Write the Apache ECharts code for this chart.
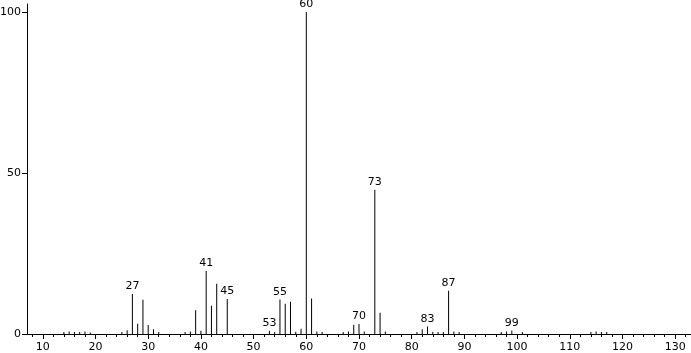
<!DOCTYPE html>
<html><head><meta charset="utf-8">
<script src="https://cdn.jsdelivr.net/npm/echarts@6/dist/echarts.min.js"></script>
<style>html,body{margin:0;padding:0;background:#fff;}#c{width:691px;height:353px;}</style>
</head><body><div id="c"></div>
<script>
const masses = [14,15,16,17,18,19,25,26,27,28,29,30,31,32,37,38,39,40,41,42,43,45,53,54,55,56,57,58,59,60,61,62,63,67,68,69,70,71,73,74,75,81,82,83,84,85,86,87,88,89,97,98,99,101,114,115,116,117];
const intensities = [0.6,0.8,0.6,0.6,0.8,0.5,0.6,1.2,12.4,3.2,10.6,2.8,1.5,0.6,0.6,0.8,7.4,1.0,19.6,8.8,15.6,10.9,1.0,0.6,10.7,9.4,10.0,0.7,1.6,100,11.0,0.8,0.6,0.6,0.8,2.9,3.1,0.8,44.8,6.6,0.8,0.6,1.5,2.3,0.6,0.6,0.6,13.4,0.8,0.6,0.6,0.8,1.1,0.6,0.6,0.8,0.6,0.6];
const labeledPeaks = [27,41,45,53,55,60,70,73,83,87,99];
const xMajorTicks = [10,20,30,40,50,60,70,80,90,100,110,120,130];
const xMinorTicks = [];
for (let v = 8; v <= 132; v += 2) xMinorTicks.push(v);
const yTicks = [0,50,100];

const font = 'DejaVu Sans';
const data = masses.map((m, i) => ({
  value: [m, intensities[i]],
  label: { show: labeledPeaks.includes(m) }
}));

const chart = echarts.init(document.getElementById('c'), null, {renderer: 'canvas'});
chart.setOption({
  animation: false,
  backgroundColor: '#fff',
  grid: { left: 27, right: 0, top: 4, bottom: 19, containLabel: false, outerBoundsMode: 'none' },
  xAxis: [{
    type: 'value', min: 7, max: 133,
    axisLine: { show: true, lineStyle: { color: '#000', width: 1 } },
    axisTick: { show: true, length: 5, customValues: xMajorTicks, lineStyle: { color: '#000' } },
    axisLabel: { show: true, customValues: xMajorTicks, color: '#000', fontFamily: font, fontSize: 11, margin: 8 },
    splitLine: { show: false }
  }, {
    type: 'value', min: 7, max: 133, position: 'bottom',
    axisLine: { show: false },
    axisTick: { show: true, length: 3, customValues: xMinorTicks, lineStyle: { color: '#000' } },
    axisLabel: { show: false },
    splitLine: { show: false }
  }],
  yAxis: {
    type: 'value', min: 0, max: 102.5,
    axisLine: { show: true, lineStyle: { color: '#000', width: 1 } },
    axisTick: { show: true, length: 5, customValues: yTicks, lineStyle: { color: '#000' } },
    axisLabel: { show: true, customValues: yTicks, color: '#000', fontFamily: font, fontSize: 11, margin: 6 },
    splitLine: { show: false }
  },
  series: [{
    type: 'bar',
    xAxisIndex: 0,
    barWidth: 1,
    barMinHeight: 0,
    itemStyle: { color: '#000' },
    label: {
      position: 'top', distance: 2, color: '#000', fontFamily: font, fontSize: 11,
      formatter: p => String(p.value[0])
    },
    data: data
  }]
});
</script></body></html>
